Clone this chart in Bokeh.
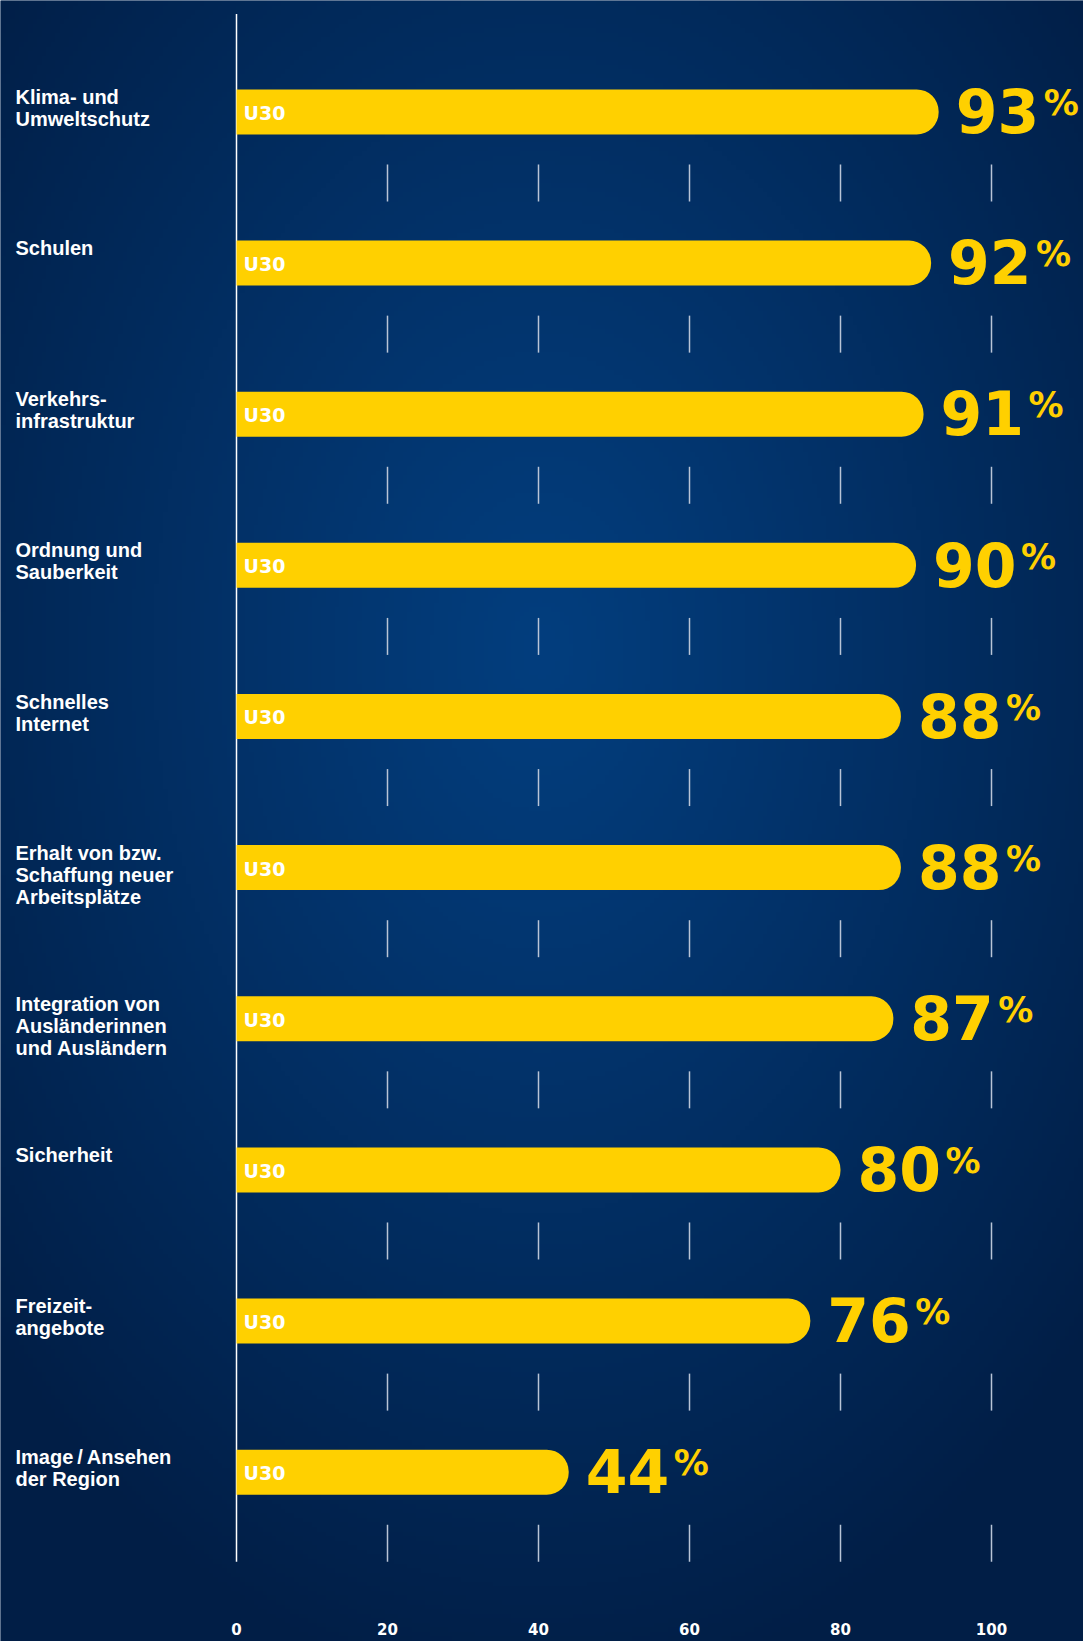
import numpy as np
from bokeh.plotting import figure
from bokeh.models import Range1d, ColumnDataSource
from bokeh.core.properties import value
from bokeh.embed import file_html
from bokeh.resources import INLINE

# ---------------- data ----------------
categories = [
    "Klima- und\nUmweltschutz",
    "Schulen",
    "Verkehrs-\ninfrastruktur",
    "Ordnung und\nSauberkeit",
    "Schnelles\nInternet",
    "Erhalt von bzw.\nSchaffung neuer\nArbeitsplätze",
    "Integration von\nAusländerinnen\nund Ausländern",
    "Sicherheit",
    "Freizeit-\nangebote",
    "Image\u2009/\u2009Ansehen\nder Region",
]
values = [93, 92, 91, 90, 88, 88, 87, 80, 76, 44]
group_label = "U30"
tick_values = [0, 20, 40, 60, 80, 100]
tick_labels = ["0", "20", "40", "60", "80", "100"]

# ---------------- layout ----------------
W, H = 1083, 1641
PX_PER_UNIT = 7.55
ZERO_PX = 236
ROW_PX = 151.14
FIRST_ROW_PX = 111.4
BAR_PX = 45
K = 0.32  # baseline compensation (fraction of font size)


def boff(desired, fs):
    return desired - K * fs


YELLOW = "#FFD000"
n = len(values)
ys = [-i for i in range(n)]

xr = Range1d(-ZERO_PX / PX_PER_UNIT, (W - ZERO_PX) / PX_PER_UNIT)
yr = Range1d(-(H - FIRST_ROW_PX) / ROW_PX, FIRST_ROW_PX / ROW_PX)

p = figure(width=W, height=H, x_range=xr, y_range=yr, output_backend="svg",
           toolbar_location=None, min_border=0, outline_line_color=None,
           background_fill_color="#012455", border_fill_color="#012455")
p.axis.visible = False
p.grid.visible = False

# background radial gradient
nx, ny = 240, 360
gx = np.linspace(0, W, nx)[None, :]
gy = np.linspace(H, 0, ny)[:, None]
d = np.sqrt(((gx - 540) / 730.0) ** 2 + ((gy - 650) / 1060.0) ** 2)
t = np.clip(d, 0, 1) ** 1.1
c0 = np.array([3, 62, 126], dtype=float)
c1 = np.array([1, 30, 70], dtype=float)
img = np.empty((ny, nx), dtype=np.uint32)
view = img.view(dtype=np.uint8).reshape((ny, nx, 4))
for k in range(3):
    view[:, :, k] = (c0[k] + (c1[k] - c0[k]) * t).astype(np.uint8)
view[:, :, 3] = 255
p.image_rgba(image=[img], x=xr.start, y=yr.start, dw=xr.end - xr.start, dh=yr.end - yr.start)

# axis line at zero
axis_top = (FIRST_ROW_PX - 13.6) / ROW_PX
tick_a, tick_b = 52.6 / ROW_PX, 89.6 / ROW_PX
p.segment(x0=[0], y0=[axis_top], x1=[0], y1=[-(n - 1) - tick_b], line_color="white", line_width=1.5)

# tick marks under every bar
tx, ty0, ty1 = [], [], []
for i in range(n):
    for tv in tick_values[1:]:
        tx.append(tv)
        ty0.append(-i - tick_a)
        ty1.append(-i - tick_b)
p.segment(x0=tx, y0=ty0, x1=tx, y1=ty1, line_color="#b9c4d6", line_width=1.5)

# bars
bar_h = BAR_PX / ROW_PX
src = ColumnDataSource(dict(y=ys, v=values, cat=categories,
                            g=[group_label] * n,
                            num=[str(v) for v in values],
                            pct=["%"] * n))
p.hbar(y="y", left=0, right="v", height=bar_h, source=src, fill_color=YELLOW,
       line_color=None, border_radius=(0, 22, 22, 0))

# group label inside bar
p.text(x=0, y="y", text="g", source=src, x_offset=7, y_offset=boff(7, 19),
       text_color="white", text_font=value("DejaVu Sans"), text_font_style="bold",
       text_font_size="19px", text_baseline="alphabetic", text_align="left")

# value labels
p.text(x="v", y="y", text="num", source=src, x_offset=17, y_offset=boff(BAR_PX / 2 - 4.5, 60),
       text_color=YELLOW, text_font=value("DejaVu Sans"), text_font_style="bold",
       text_font_size="60px", text_baseline="alphabetic", text_align="left")
p.text(x="v", y="y", text="pct", source=src, x_offset=105, y_offset=boff(-BAR_PX / 2 + 25, 35),
       text_color=YELLOW, text_font=value("DejaVu Sans"), text_font_style="bold",
       text_font_size="35px", text_baseline="alphabetic", text_align="left")

# category labels (one row per line)
lx, ly, lt, loff = [], [], [], []
for i, c in enumerate(categories):
    for j, line in enumerate(c.split("\n")):
        lx.append(0)
        ly.append(-i)
        lt.append(line)
        loff.append(boff(-BAR_PX / 2 + 14 + 22 * j, 20))
lsrc = ColumnDataSource(dict(x=lx, y=ly, t=lt, off=loff))
p.text(x="x", y="y", text="t", source=lsrc, x_offset=-(ZERO_PX - 15), y_offset="off",
       text_color="white", text_font=value("Liberation Sans"), text_font_style="bold",
       text_font_size="20px", text_baseline="alphabetic", text_align="left")

# tick labels
p.text(x=tick_values, y=[yr.start] * len(tick_values), text=tick_labels, y_offset=boff(-8, 15),
       text_color="white", text_font=value("DejaVu Sans"), text_font_style="bold",
       text_font_size="15px", text_baseline="alphabetic", text_align="center")

open("out.html", "w").write(file_html(p, INLINE))
